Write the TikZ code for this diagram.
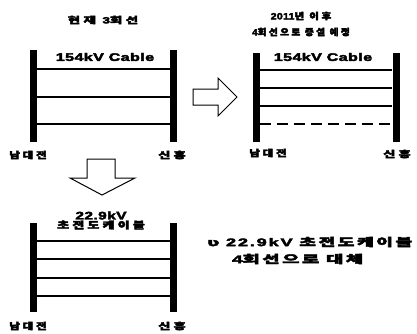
\documentclass[tikz,border=0pt]{standalone}
\usepackage{fontspec}
\usepackage{graphicx}
\newfontfamily\krt[LetterSpace=25]{Noto Sans CJK KR}
\newfontfamily\krn[LetterSpace=14]{Noto Sans CJK KR}
\newfontfamily\lat[LetterSpace=3]{Liberation Sans}
\newfontfamily\latn[LetterSpace=10]{Liberation Sans}
\newfontfamily\dv{DejaVu Sans}
\newcommand\stretchtxt[2]{\scalebox{#1}[1]{\special{pdf:literal 2 Tr 0.35 w}#2\special{pdf:literal 0 Tr}}}
\begin{document}
\begin{tikzpicture}[x=1pt,y=-1pt,
  bar/.style={fill=black,draw=none,minimum width=7pt,inner sep=0pt},
  cable/.style={line width=1.6pt},
  blk/.style={draw,line width=1pt,fill=white,line join=miter},
  ttl/.style={font=\krt\bfseries\fontsize{9}{10}\selectfont,inner sep=0pt,align=center},
  lbl/.style={font=\krt\bfseries\fontsize{9}{10}\selectfont,inner sep=0pt},
  cab/.style={font=\lat\bfseries\fontsize{11}{12}\selectfont,inner sep=0pt},
  note/.style={anchor=west,inner sep=0pt,font=\krn\bfseries\fontsize{11}{13}\selectfont}]
\useasboundingbox (0,0) rectangle (417,333);
% panel 1
\node[bar,minimum height=92pt] (L1) at (33.5,96) {};
\node[bar,minimum height=92pt] (R1) at (173.5,96) {};
\foreach \y in {69,97,124}
  \draw[cable] (L1.east |- 0,\y) -- (R1.west |- 0,\y);
\node[ttl] (t1) at (103,20) {\stretchtxt{1.5}{현재 {\lat\bfseries 3}회선}};
\node[cab] (c1) at (105,57) {\stretchtxt{1.45}{154kV Cable}};
\node[lbl] (a1) at (28,155) {\stretchtxt{1.27}{남대전}};
\node[lbl] (b1) at (172,155) {\stretchtxt{1.45}{신흥}};
% panel 2
\node[bar,minimum height=89pt] (L2) at (256,97.5) {};
\node[bar,minimum height=89pt] (R2) at (396,97.5) {};
\foreach \y in {70,88,106}
  \draw[cable] (L2.east |- 0,\y) -- (R2.west |- 0,\y);
\draw[cable,dash pattern=on 11pt off 6pt] (L2.east |- 0,124) -- (R2.west |- 0,124);
\node[ttl] (t2) at (301,16) {\stretchtxt{1.17}{{\lat\bfseries 2011}년 이후}};
\node[ttl] (t2b) at (301,32) {\stretchtxt{1.07}{{\lat\bfseries 4}회선으로 증설 예정}};
\node[cab] (c2) at (323,57) {\stretchtxt{1.45}{154kV Cable}};
\node[lbl] (a2) at (268,153) {\stretchtxt{1.27}{남대전}};
\node[lbl] (b2) at (397,154) {\stretchtxt{1.45}{신흥}};
% panel 3
\node[bar,minimum height=89pt] (L3) at (33.5,267.5) {};
\node[bar,minimum height=89pt] (R3) at (173.5,267.5) {};
\foreach \y in {241,259,278,296}
  \draw[cable] (L3.east |- 0,\y) -- (R3.west |- 0,\y);
\node[cab] (c3) at (101,215.5) {\stretchtxt{1.4}{22.9kV}};
\node[ttl,font=\krt\bfseries\fontsize{9.5}{10}\selectfont] (t3) at (101,225) {\stretchtxt{1.36}{초전도케이블}};
\node[lbl] (a3) at (28,326) {\stretchtxt{1.27}{남대전}};
\node[lbl] (b3) at (172,326) {\stretchtxt{1.45}{신흥}};
% arrows
\draw[blk] (193,89) -- (218,89) -- (218,78) -- (237,97) -- (218,116) -- (218,105) -- (193,105) -- cycle;
\draw[blk] (87,159) -- (115,159) -- (115,178) -- (135,178) -- (102,195) -- (70,178) -- (87,178) -- cycle;
% note
\node[note] (n1) at (207,242) {\stretchtxt{1.65}{{\dv ʋ} {\latn\bfseries 22.9kV} 초전도케이블}};
\node[note] (n2) at (232,259) {\stretchtxt{1.7}{{\latn\bfseries 4}회선으로 대체}};
\end{tikzpicture}
\end{document}
